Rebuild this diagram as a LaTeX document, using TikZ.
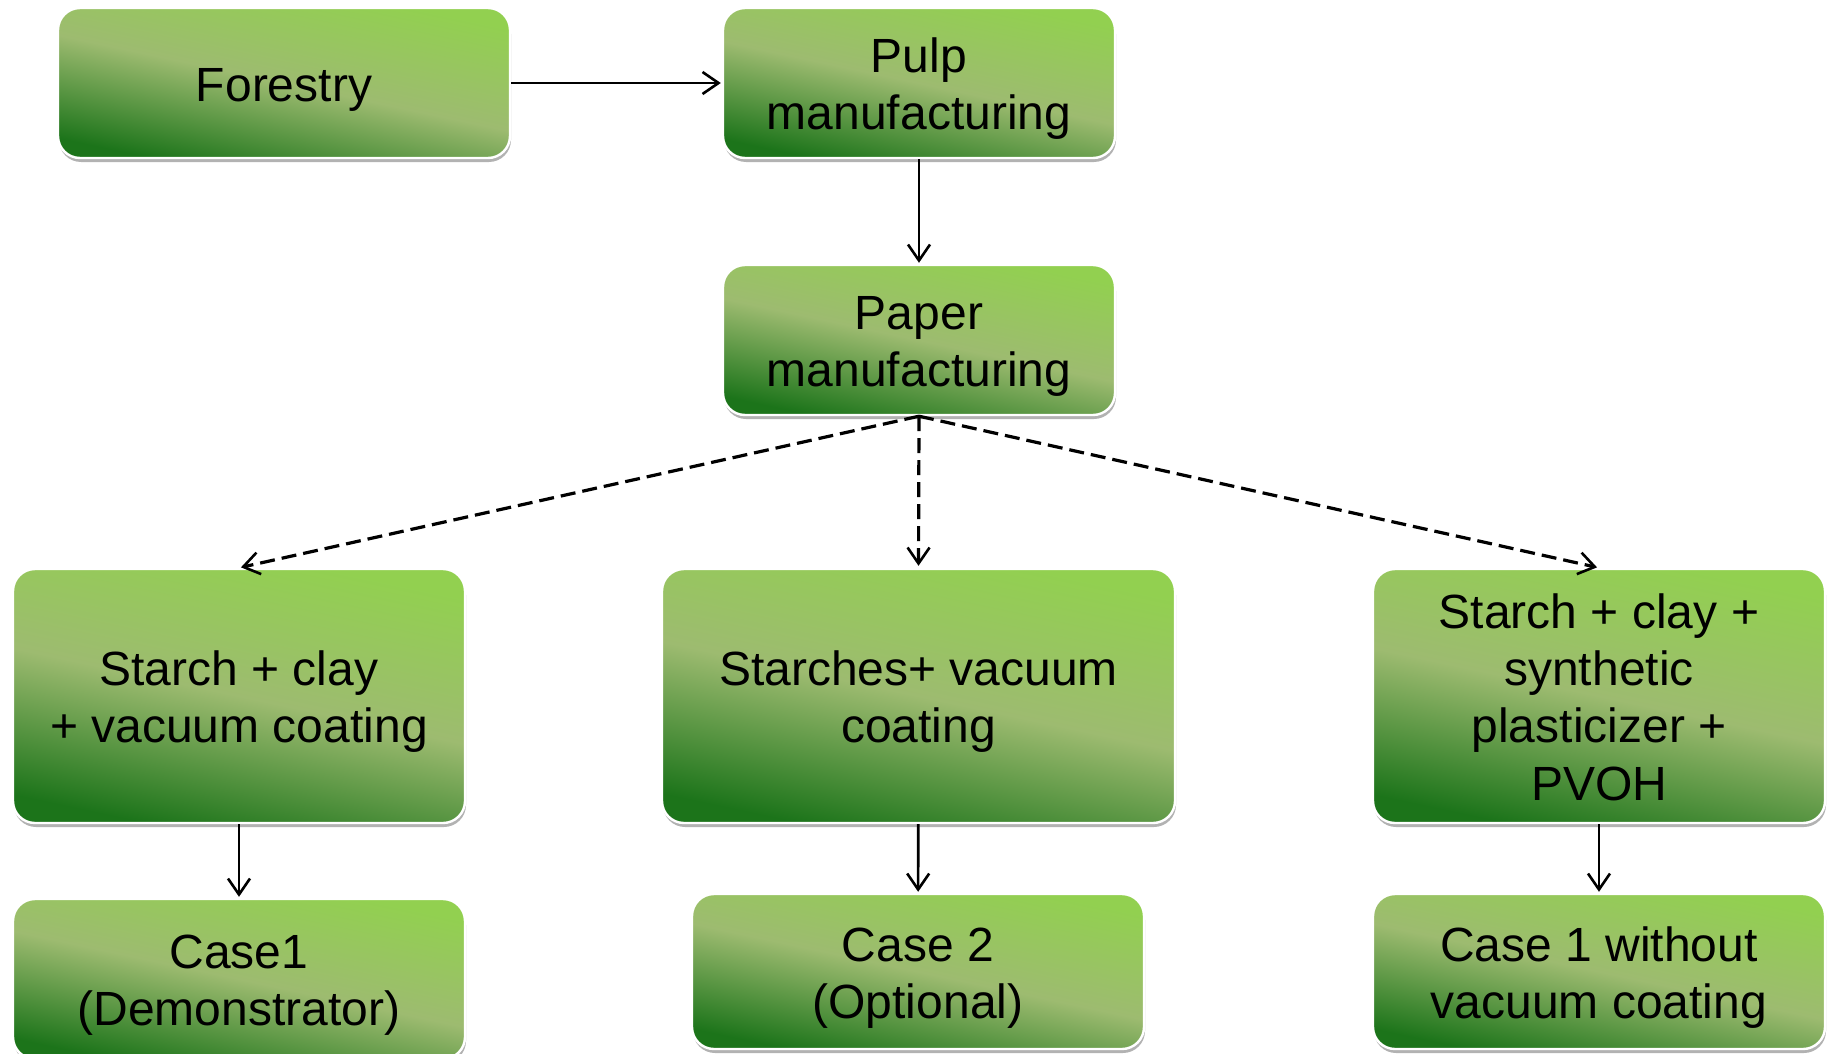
\documentclass[tikz,border=0pt]{standalone}
\usepackage{fontspec}
\setmainfont{Liberation Sans}
\usetikzlibrary{arrows.meta,shadows}
\definecolor{gtop}{RGB}{146,208,80}
\definecolor{gmid}{RGB}{157,187,112}
\definecolor{gbot}{RGB}{28,116,26}
\newcommand\BoxTop{\rule{0pt}{0.97em}}
\newcommand\BoxBot{\rule[-0.212em]{0pt}{0.212em}}
\begin{document}
\begin{tikzpicture}[x=0.5pt,y=-0.5pt,
  box/.style={rectangle, rounded corners=11pt, draw=white, line width=1.2pt,
    top color=gtop, bottom color=gbot, middle color=gmid, shading angle=-12,
    align=center, font=\fontsize{24}{28.6}\selectfont, inner sep=0pt,
    drop shadow={shadow xshift=0.5pt, shadow yshift=-2pt, fill=black, opacity=0.3}},
  arr/.style={-{Straight Barb[length=8pt,width=11pt,line width=1.3pt]}, line width=1.3pt, shorten >=0.5pt},
  darr/.style={arr, dash pattern=on 7.5pt off 3.5pt, line width=1.6pt, shorten >=1pt}]
\useasboundingbox (0,0) rectangle (1831,1054);
\node[box, minimum width=226pt, minimum height=75pt] (forestry) at (284,83) {\BoxTop Forestry\BoxBot};
\node[box, minimum width=196pt, minimum height=75pt] (pulp) at (919,83) {\BoxTop Pulp\\manufacturing\BoxBot};
\node[box, minimum width=196pt, minimum height=75pt] (paper) at (919,340) {\BoxTop Paper\\manufacturing\BoxBot};
\node[box, minimum width=226pt, minimum height=127pt] (sc) at (239,696) {\BoxTop Starch + clay\\+ vacuum coating\BoxBot};
\node[box, minimum width=256.5pt, minimum height=127pt] (st) at (918.5,696) {\BoxTop Starches+ vacuum\\coating\BoxBot};
\node[box, minimum width=226pt, minimum height=127pt] (ss) at (1599,696) {\BoxTop Starch + clay +\\synthetic\\plasticizer +\\PVOH\BoxBot};
\node[box, minimum width=226pt, minimum height=80pt] (c1) at (239,979) {\BoxTop Case1\\(Demonstrator)\BoxBot};
\node[box, minimum width=226pt, minimum height=77.5pt] (c2) at (918,971.5) {\BoxTop Case 2\\(Optional)\BoxBot};
\node[box, minimum width=226pt, minimum height=77.5pt] (c3) at (1599,971.5) {\BoxTop Case 1 without\\vacuum coating\BoxBot};
\draw[arr] (forestry) -- (pulp);
\draw[arr] (pulp) -- (paper);
\draw[darr] (paper.south) -- (sc.north);
\draw[darr] (paper.south) -- (st.north);
\draw[darr] (paper.south) -- (ss.north);
\draw[arr] (sc) -- (c1);
\draw[arr] (st) -- (c2);
\draw[arr] (ss) -- (c3);
\end{tikzpicture}
\end{document}
